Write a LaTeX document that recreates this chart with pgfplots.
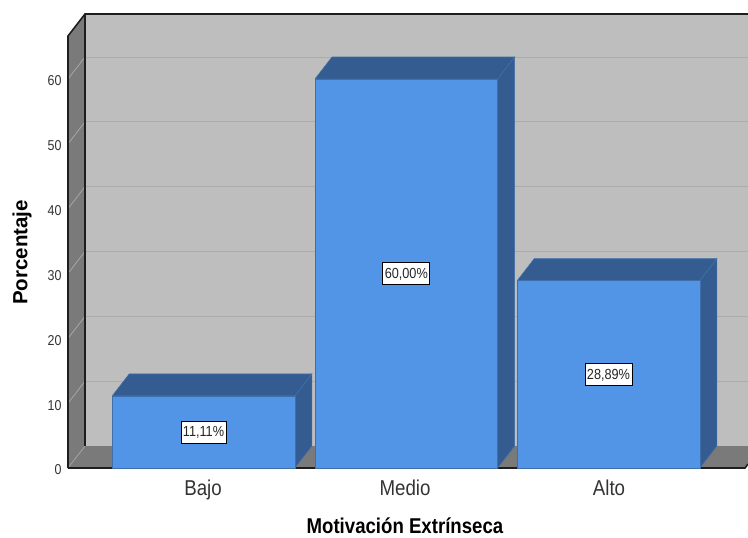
\documentclass[border=0pt]{standalone}
\usepackage{pgfplots}
\usepackage{pgfplotstable}
\usepackage{fontspec}
% labels are set slightly condensed, the rotated axis title at natural width
\setmainfont[FakeStretch=0.87]{Liberation Sans}
\newfontfamily\naturalfont{Liberation Sans}
\pgfplotsset{compat=1.18}

\definecolor{wallback}{HTML}{BEBEBE}
\definecolor{wallside}{HTML}{7A7A7A}
\definecolor{gridc}{HTML}{ABABAB}
\definecolor{barfront}{HTML}{5294E6}
\definecolor{barshade}{HTML}{345C90}
\definecolor{baredge}{HTML}{3F6FA8}
\definecolor{framec}{HTML}{1E1E1E}

\pgfplotstableread{
x     pct   label
203.5 11.11 11,11
406.3 60.00 60,00
608.5 28.89 28,89
}\motivacion

\begin{document}
\begin{tikzpicture}[x=1pt,y=1pt]
\path[use as bounding box] (0,0) rectangle (748,538);
\begin{axis}[
  at={(68pt,70pt)}, anchor=south west,
  scale only axis, width=680pt, height=454pt,
  xmin=68, xmax=748, ymin=0, ymax=70.03,
  clip=false,
  axis line style={draw=none},
  major tick length=0pt,
  xtick={203,405,609}, xticklabels={Bajo,Medio,Alto},
  ytick={0,10,20,30,40,50,60},
  xticklabel style={font=\fontsize{21.5}{24}\selectfont, color=black!80, yshift=-8pt},
  yticklabel style={font=\fontsize{14.3}{16}\selectfont, color=black!80, xshift=-3pt, yshift=-2pt},
  /pgf/number format/assume math mode=true,
  xlabel={\textbf{Motivación Extrínseca}},
  ylabel={\naturalfont\textbf{Porcentaje}},
  xlabel style={font=\fontsize{21.4}{24}\selectfont, at={(rel axis cs:0.4956,-0.1445)}, anchor=base, inner sep=0pt, text depth=0pt},
  ylabel style={font=\fontsize{20.5}{22}\selectfont, at={(rel axis cs:-0.0675,0.475)}, anchor=center, rotate=0},
]
% back wall, left wall and floor of the box
\addplot[fill=wallback, draw=none] coordinates {(85,3.39) (748,3.39) (748,70.03) (85,70.03) (85,3.39)};
\addplot[fill=wallside, draw=none] coordinates {(68,0) (85,3.39) (85,70.03) (68,66.63) (68,0)};
\addplot[fill=wallside, draw=none] coordinates {(68,0) (85,3.39) (748,3.39) (748,0.6) (745,0) (68,0)};

% grid lines along the back wall
\addplot[gridc, line width=0.9pt] coordinates {(85,13.39) (748,13.39)};
\addplot[gridc, line width=0.9pt] coordinates {(85,23.39) (748,23.39)};
\addplot[gridc, line width=0.9pt] coordinates {(85,33.39) (748,33.39)};
\addplot[gridc, line width=0.9pt] coordinates {(85,43.39) (748,43.39)};
\addplot[gridc, line width=0.9pt] coordinates {(85,53.39) (748,53.39)};
\addplot[gridc, line width=0.9pt] coordinates {(85,63.39) (748,63.39)};

% grid lines across the left wall
\addplot[gridc, line width=0.7pt] coordinates {(68,10) (85,13.39)};
\addplot[gridc, line width=0.7pt] coordinates {(68,20) (85,23.39)};
\addplot[gridc, line width=0.7pt] coordinates {(68,30) (85,33.39)};
\addplot[gridc, line width=0.7pt] coordinates {(68,40) (85,43.39)};
\addplot[gridc, line width=0.7pt] coordinates {(68,50) (85,53.39)};
\addplot[gridc, line width=0.7pt] coordinates {(68,60) (85,63.39)};
\addplot[gridc, line width=0.6pt] coordinates {(68,0) (85,3.39)};

% frame
\addplot[framec, line width=1.6pt] coordinates {(68,0) (68,66.63) (85,70.03) (748,70.03)};
\addplot[framec, line width=1.4pt] coordinates {(85,3.39) (85,70.03)};
\addplot[framec, line width=1.6pt] coordinates {(68,0) (745,0) (748,0.6)};

% top and side faces of the bars
\addplot[fill=barshade, draw=baredge, line width=0.6pt] coordinates {(112.2,11.11) (129.2,14.50) (311.8,14.50) (294.8,11.11) (112.2,11.11)};
\addplot[fill=barshade, draw=baredge, line width=0.6pt] coordinates {(294.8,0) (311.8,3.39) (311.8,14.50) (294.8,11.11) (294.8,0)};
\addplot[fill=barshade, draw=baredge, line width=0.6pt] coordinates {(315,60) (332,63.39) (514.6,63.39) (497.6,60) (315,60)};
\addplot[fill=barshade, draw=baredge, line width=0.6pt] coordinates {(497.6,0) (514.6,3.39) (514.6,63.39) (497.6,60) (497.6,0)};
\addplot[fill=barshade, draw=baredge, line width=0.6pt] coordinates {(517.2,28.89) (534.2,32.28) (716.8,32.28) (699.8,28.89) (517.2,28.89)};
\addplot[fill=barshade, draw=baredge, line width=0.6pt] coordinates {(699.8,0) (716.8,3.39) (716.8,32.28) (699.8,28.89) (699.8,0)};

% front faces
\addplot[ybar, bar width=182.6pt, bar shift=0pt, fill=barfront, draw=baredge, line width=0.6pt]
  table[x=x, y=pct] {\motivacion};

% percentage labels at half the height of each bar
\addplot[draw=none, nodes near coords={\pgfplotspointmeta\%},
  point meta=explicit symbolic,
  every node near coord/.style={anchor=center, fill=white, draw=black, line width=0.7pt,
    inner xsep=2pt, inner ysep=6pt, text height=10pt, text depth=0pt,
    font=\fontsize{14.6}{16}\selectfont, text=black!85}]
  table[x=x, y expr=\thisrow{pct}/2, meta=label] {\motivacion};
\end{axis}
\end{tikzpicture}
\end{document}
